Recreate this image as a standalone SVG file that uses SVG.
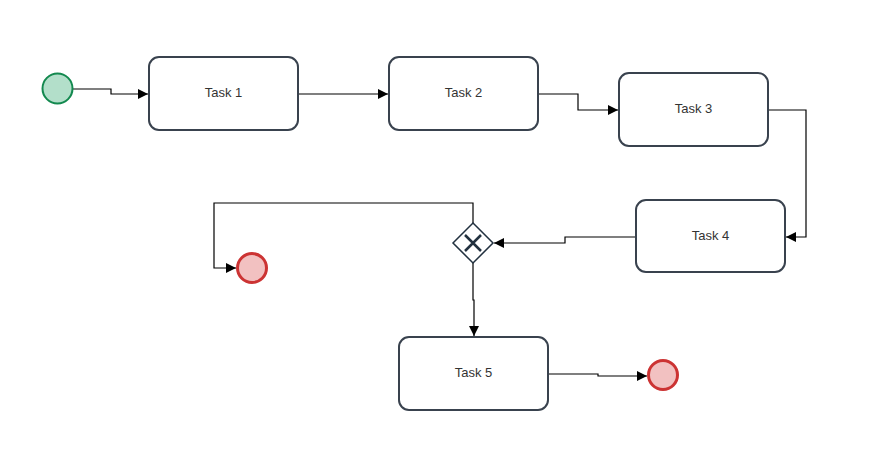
<svg xmlns="http://www.w3.org/2000/svg" width="887" height="461" viewBox="0 0 887 461">
<style>
.task{fill:#fff;stroke:#39424e;stroke-width:2}
.lbl{font-family:"Liberation Sans",Arial,sans-serif;font-size:13px;fill:#333;text-anchor:middle;dominant-baseline:central}
.edge{fill:none;stroke:#000;stroke-width:1.2}
.start{fill:#b3dfca;stroke:#13894f;stroke-width:2}
.end{fill:#f2c1c1;stroke:#cc3333;stroke-width:3}
</style>
<defs>
<marker id="arr" viewBox="0 0 10 10" refX="10" refY="5" markerWidth="10" markerHeight="10" markerUnits="userSpaceOnUse" orient="auto">
<path d="M0,0 L10,5 L0,10 Z" fill="#000"/>
</marker>
</defs>
<rect width="887" height="461" fill="#fff"/>
<g id="connectors">
<path class="edge" d="M73,89 H111 V94 H148" marker-end="url(#arr)"/>
<path class="edge" d="M298,94 H388" marker-end="url(#arr)"/>
<path class="edge" d="M538,94 H578 V110 H618" marker-end="url(#arr)"/>
<path class="edge" d="M768,110 H806 V237 H786" marker-end="url(#arr)"/>
<path class="edge" d="M636,237 H565 V243 H494" marker-end="url(#arr)"/>
<path class="edge" d="M473,223 V203 H214 V268 H236" marker-end="url(#arr)"/>
<path class="edge" d="M473,263 V300 H474 V336" marker-end="url(#arr)"/>
<path class="edge" d="M548,374 H598 V376 H647" marker-end="url(#arr)"/>
</g>
<g id="start"><circle class="start" cx="57.5" cy="88.5" r="15"/></g>
<g id="task1"><rect class="task" x="149" y="57" width="149" height="73" rx="10"/><text class="lbl" x="223.5" y="92">Task 1</text></g>
<g id="task2"><rect class="task" x="389" y="57" width="149" height="73" rx="10"/><text class="lbl" x="463.5" y="92">Task 2</text></g>
<g id="task3"><rect class="task" x="619" y="73" width="149" height="73" rx="10"/><text class="lbl" x="693.5" y="108">Task 3</text></g>
<g id="task4"><rect class="task" x="636" y="200" width="149" height="72" rx="10"/><text class="lbl" x="710.5" y="235">Task 4</text></g>
<g id="gateway">
<path d="M473,223 L493,243 L473,263 L453,243 Z" fill="#fff" stroke="#22313f" stroke-width="1.5"/>
<path d="M465,235 L481,251 M481,235 L465,251" stroke="#22313f" stroke-width="2.5"/>
</g>
<g id="end1"><circle class="end" cx="252" cy="268" r="14.5"/></g>
<g id="task5"><rect class="task" x="399" y="337" width="149" height="73" rx="10"/><text class="lbl" x="473.5" y="372">Task 5</text></g>
<g id="end2"><circle class="end" cx="663" cy="375" r="14.5"/></g>
</svg>
